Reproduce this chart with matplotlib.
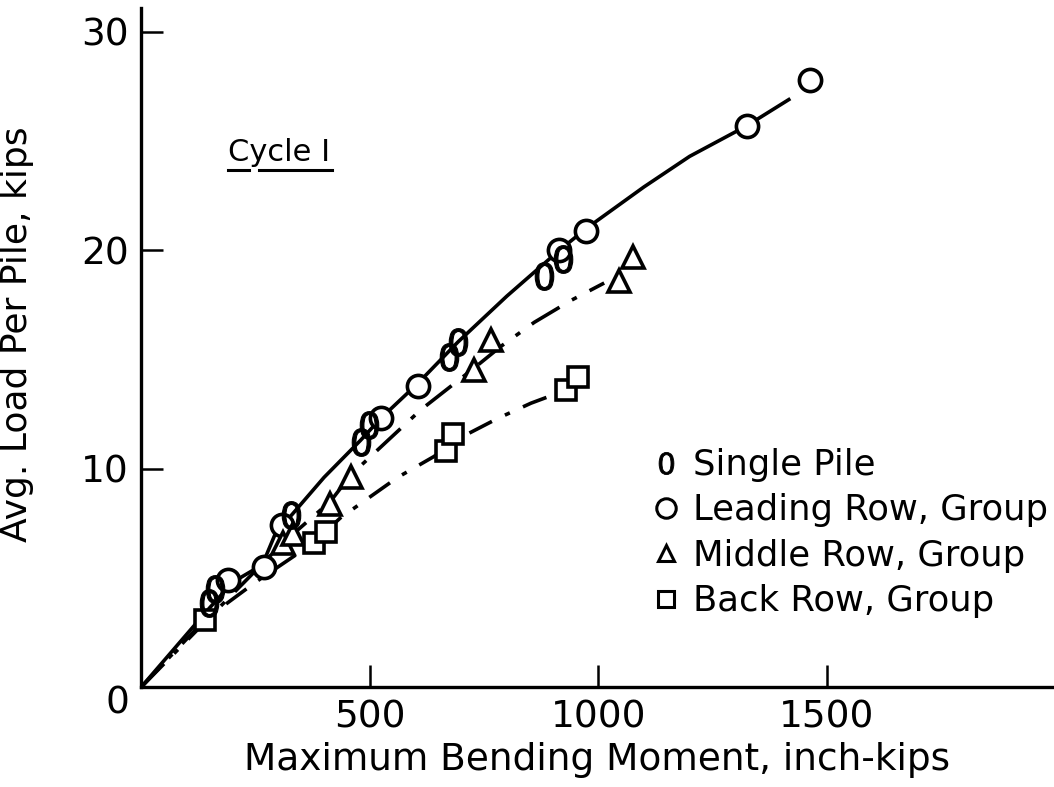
import matplotlib
matplotlib.use("Agg")
from matplotlib import pyplot as plt
from matplotlib.lines import Line2D

single_x = [149, 162, 327, 480, 498, 673, 693, 882, 923]
single_y = [3.85, 4.5, 7.9, 11.2, 12.0, 15.1, 15.8, 18.8, 19.6]

leading_x = [189, 268, 309, 524, 605, 915, 974, 1325, 1463]
leading_y = [4.9, 5.5, 7.4, 12.3, 13.8, 20.0, 20.9, 25.7, 27.8]

middle_x = [311, 331, 414, 458, 728, 765, 1046, 1077]
middle_y = [6.6, 7.0, 8.4, 9.6, 14.5, 15.9, 18.6, 19.7]

back_x = [140, 377, 404, 667, 682, 930, 956]
back_y = [3.07, 6.6, 7.1, 10.8, 11.6, 13.6, 14.2]

# hand-drawn fitted curves
leading_curve_x = [0, 140, 200, 265, 295, 330, 400, 480, 524, 605, 693, 800, 915, 974, 1100, 1200, 1325, 1417]
leading_curve_y = [0, 3.4, 4.8, 5.6, 7.1, 7.9, 9.6, 11.3, 12.3, 13.9, 15.8, 17.9, 20.0, 21.0, 22.9, 24.3, 25.7, 26.9]

middle_curve_x = [0, 150, 310, 414, 458, 540, 612, 728, 787, 860, 940, 1013]
middle_curve_y = [0, 3.2, 6.6, 8.5, 9.7, 11.3, 12.7, 14.6, 15.6, 16.7, 17.7, 18.5]

back_curve_x = [0, 140, 250, 377, 436, 561, 640, 706, 780, 853, 930]
back_curve_y = [0, 3.1, 4.8, 6.6, 7.75, 9.6, 10.55, 11.5, 12.3, 13.0, 13.6]

x_ticks = [500, 1000, 1500]
y_ticks = [10, 20, 30]

fig = plt.figure(figsize=(10.54, 7.87), dpi=100)
ax = fig.add_axes([0.134, 0.127, 0.865, 0.863])

# curves
ax.plot(leading_curve_x, leading_curve_y, color="black", lw=2.6, zorder=2)
ax.plot(middle_curve_x, middle_curve_y, color="black", lw=2.6,
        linestyle=(0, (9, 4, 1.5, 4)), zorder=2)
ax.plot(back_curve_x, back_curve_y, color="black", lw=2.6,
        linestyle=(0, (7, 4, 1.5, 4)), zorder=2)

# markers
mk = dict(linestyle="none", mfc="white", mec="black", mew=2.6, zorder=3)
ax.plot(leading_x, leading_y, marker="o", ms=16, **mk)
ax.plot(middle_x, middle_y, marker="^", ms=16, **mk)
ax.plot(back_x, back_y, marker="s", ms=15, **mk)
ax.plot(single_x, single_y, marker="$0$", ms=20, linestyle="none",
        color="black", mew=0.8, zorder=4)

# axes
ax.set_xlim(0, 1995)
ax.set_ylim(0, 31.1)
for s in ["top", "right"]:
    ax.spines[s].set_visible(False)
for s in ["left", "bottom"]:
    ax.spines[s].set_linewidth(2.4)
ax.set_xticks(x_ticks)
ax.set_yticks(y_ticks)
ax.tick_params(direction="in", length=16, width=1.8, labelsize=27, pad=9)
ax.annotate("0", xy=(0, 0), xytext=(-17, -12), textcoords="offset points",
            ha="center", va="center", fontsize=27)

ax.set_xlabel("Maximum Bending Moment, inch-kips", fontsize=27, labelpad=5)
ax.set_ylabel("Avg. Load Per Pile, kips", fontsize=26)
ax.yaxis.set_label_coords(-0.118, 0.52)

# cycle label with broken underline
ax.text(190, 24.1, "Cycle I", fontsize=22)
ax.add_line(Line2D([0.095, 0.118], [0.762, 0.762], transform=ax.transAxes,
                   color="black", lw=2.2))
ax.add_line(Line2D([0.129, 0.209], [0.762, 0.762], transform=ax.transAxes,
                   color="black", lw=2.2))

# legend
handles = [
    Line2D([], [], linestyle="none", marker="$0$", ms=16, color="black", mew=0.6),
    Line2D([], [], linestyle="none", marker="o", ms=14, mfc="white", mec="black", mew=2.2),
    Line2D([], [], linestyle="none", marker="^", ms=12, mfc="white", mec="black", mew=2.2),
    Line2D([], [], linestyle="none", marker="s", ms=12, mfc="white", mec="black", mew=2.2),
]
labels = ["Single Pile", "Leading Row, Group", "Middle Row, Group", "Back Row, Group"]
ax.legend(handles, labels, loc="upper left", bbox_to_anchor=(0.562, 0.352),
          frameon=False, fontsize=25.5, handlelength=0.7, handletextpad=0.4,
          labelspacing=0.32, borderpad=0, borderaxespad=0)

fig.savefig("out.png", dpi=100)
